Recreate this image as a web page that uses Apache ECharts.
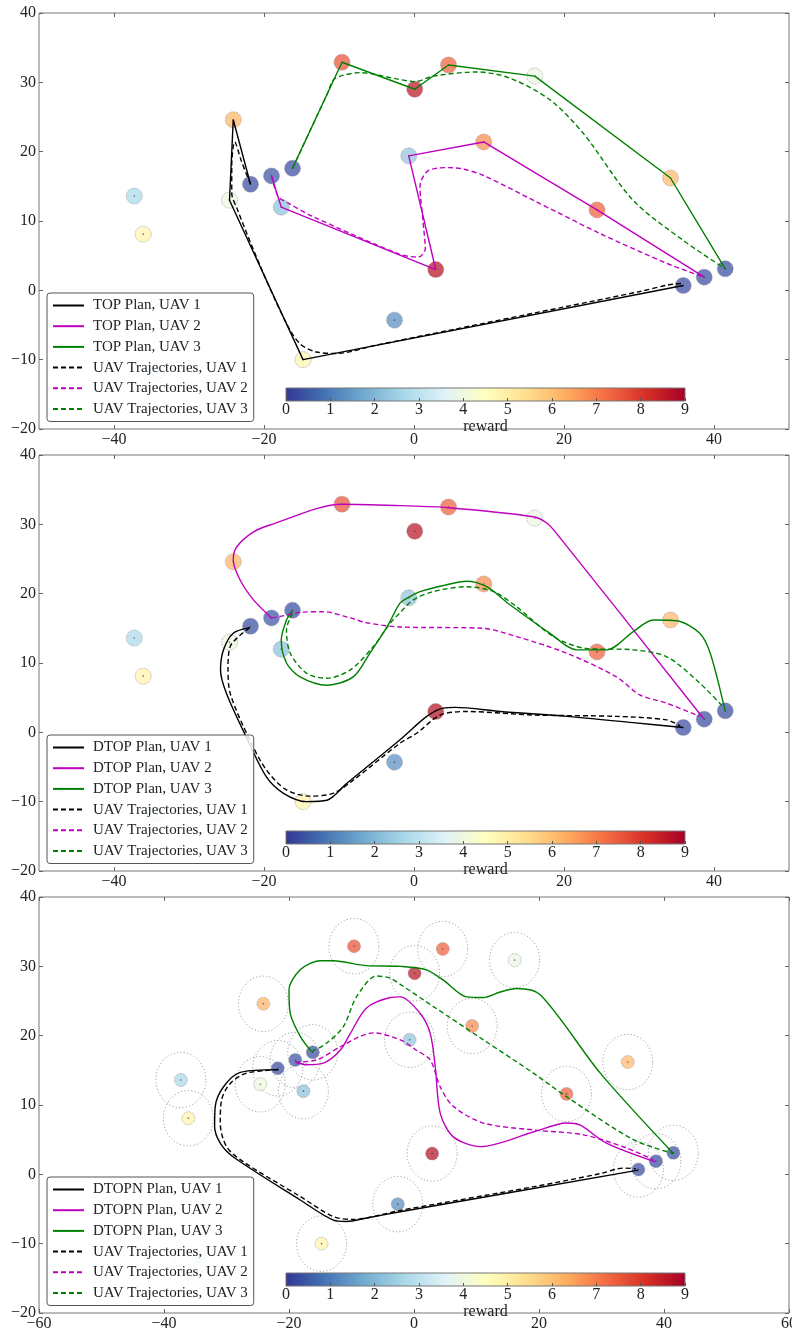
<!DOCTYPE html>
<html>
<head>
<meta charset="utf-8">
<script src="https://cdn.jsdelivr.net/npm/echarts@6/dist/echarts.min.js"></script>
<style>
  html, body { margin: 0; padding: 0; background: #fff; }
  #chart { width: 792px; height: 1330px; }
</style>
</head>
<body>
<div id="chart"></div>
<script>
// targets (same field in all three panels)
var targetX = [-24.1, -21.8, -19.0, -16.2, -17.7, -24.6, -37.3, -36.1, -14.8, -2.6, -9.6, 0.1, 4.6, 16.1, -0.7, 9.3, 2.9, 24.4, 34.2, 35.9, 38.7, 41.5, -34.3]
var targetY = [24.6, 15.3, 16.5, 17.6, 12.0, 13.0, 13.6, 8.1, -10.0, -4.3, 32.9, 29.0, 32.5, 30.9, 19.4, 21.4, 3.0, 11.6, 16.2, 0.7, 1.9, 3.1, -11.8]
var targetReward = [6.2, 0.3, 0.4, 0.3, 2.2, 4.0, 2.7, 4.8, 4.8, 1.3, 7.6, 8.6, 7.4, 3.9, 2.3, 6.8, 8.7, 7.4, 6.1, 0.3, 0.3, 0.3, 3.0]
var noiseRadius = 4

// TOP
var topPlan1 = [[-21.8,15.3],[-24.1,24.6],[-24.6,13.0],[-14.8,-10.0],[35.9,0.7]]
var topPlan2 = [[-19.0,16.5],[-17.7,12.0],[2.9,3.0],[-0.7,19.4],[9.3,21.4],[24.4,11.6],[38.7,1.9]]
var topPlan3 = [[-16.2,17.6],[-9.6,32.9],[0.1,29.0],[4.6,32.5],[16.1,30.9],[34.2,16.2],[41.5,3.1]]
var topTraj1 = [[-21.8,15.3],[-23.0,18.6],[-23.9,21.4],[-24.3,18.0],[-24.3,14.0],[-23.6,11.8],[-20.5,3.5],[-17.0,-4.8],[-15.2,-7.7],[-13.0,-8.9],[-10.3,-9.1],[-5.0,-7.9],[5.0,-5.7],[20.0,-2.4],[30.0,-0.2],[34.0,0.8],[35.9,1.0]]
var topTraj2 = [[-19.0,16.5],[-18.1,13.5],[-16.8,12.6],[-13.4,10.6],[-1.9,5.2],[0.6,4.8],[1.5,6.0],[1.2,10.0],[0.8,15.0],[1.7,17.1],[3.0,17.6],[4.6,17.7],[6.5,17.5],[9.2,16.6],[15.9,13.0],[24.8,8.2],[33.7,3.9],[38.4,2.0]]
var topTraj3 = [[-16.2,17.6],[-13.0,25.0],[-11.5,28.5],[-10.8,30.3],[-9.5,31.0],[-7.2,31.4],[-2.3,30.5],[0.1,30.1],[2.6,30.9],[8.4,31.5],[12.8,30.6],[18.1,27.5],[22.6,22.6],[29.2,13.0],[35.9,7.2],[41.5,3.1]]

// DTOP
var dtopPlan1 = [[-21.9,15.1],[-24.1,14.3],[-25.4,11.9],[-25.8,9.0],[-25.0,5.6],[-22.4,-0.6],[-19.7,-6.4],[-17.4,-8.8],[-14.3,-10.0],[-11.6,-9.8],[-9.0,-7.4],[-1.9,-1.1],[1.7,2.3],[3.9,3.5],[5.5,3.6],[11.5,3.0],[20.4,2.3],[29.2,1.4],[35.9,0.7]]
var dtopPlan2 = [[-19.0,16.5],[-21.4,19.1],[-23.2,22.0],[-24.1,24.9],[-23.6,26.8],[-21.4,28.9],[-19.2,29.9],[-9.6,32.9],[-1.9,32.7],[4.6,32.4],[15.9,31.1],[17.7,30.2],[19.0,28.7],[38.6,2.0]]
var dtopPlan3 = [[-16.2,17.6],[-17.0,16.2],[-17.7,13.3],[-17.0,10.0],[-15.2,8.0],[-11.6,6.8],[-8.1,8.0],[-5.9,11.4],[-3.6,15.2],[-1.9,18.6],[-1.0,19.3],[0.8,20.3],[4.0,21.2],[7.0,21.8],[9.7,21.0],[12.8,18.4],[18.1,14.3],[21.7,11.9],[25.7,11.9],[29.2,14.5],[31.9,16.2],[35.0,16.1],[38.1,14.3],[39.5,11.4],[41.5,3.0]]
var dtopTraj1 = [[-21.9,15.1],[-23.4,13.8],[-24.5,12.4],[-24.8,9.5],[-24.5,5.6],[-21.9,-1.1],[-19.7,-5.4],[-17.0,-8.3],[-13.9,-9.2],[-10.8,-8.8],[-8.1,-6.9],[-1.9,-1.6],[0.4,-0.1],[3.5,2.5],[7.0,3.0],[15.9,2.5],[27.0,2.3],[33.7,1.8],[35.5,0.9]]
var dtopTraj2 = [[-19.0,16.5],[-17.9,16.7],[-15.2,17.3],[-12.1,17.4],[-8.5,16.5],[-6.3,15.8],[-1.9,15.2],[9.2,15.0],[13.7,13.8],[20.4,11.4],[27.0,8.0],[30.1,5.4],[33.7,4.2],[38.1,2.3]]
var dtopTraj3 = [[-16.2,17.2],[-17.0,14.8],[-16.5,11.4],[-14.3,8.5],[-11.6,7.8],[-8.5,9.0],[-5.4,12.4],[-3.2,15.7],[-1.9,17.2],[-0.1,19.1],[2.6,20.3],[7.0,21.0],[10.6,20.3],[13.7,18.1],[18.6,13.8],[23.0,12.1],[29.2,11.9],[33.7,10.9],[38.1,7.1],[41.2,3.7]]

// DTOPN
var dtopnPlan1 = [[-21.7,15.1],[-27.8,14.7],[-30.5,12.6],[-31.8,9.8],[-31.9,6.9],[-31.0,4.5],[-28.9,2.5],[-18.2,-3.7],[-12.9,-6.6],[-10.8,-6.8],[-7.6,-6.3],[-2.2,-5.4],[35.9,0.6]]
var dtopnPlan2 = [[-19.0,16.2],[-17.2,15.8],[-14.6,16.0],[-11.8,17.9],[-10.2,20.3],[-7.6,24.0],[-3.8,25.5],[-2.2,25.6],[1.0,23.2],[2.6,20.3],[3.4,15.5],[4.2,8.8],[6.3,5.4],[10.6,4.0],[19.1,6.1],[24.4,7.4],[26.6,7.1],[30.8,4.5],[38.6,1.8]]
var dtopnPlan3 = [[-16.4,17.7],[-18.2,19.9],[-19.8,23.2],[-20.0,26.6],[-18.2,29.5],[-15.0,30.8],[-12.9,30.8],[-7.6,30.1],[-2.2,30.0],[2.0,29.5],[4.7,28.0],[8.4,25.6],[11.1,25.5],[13.8,26.3],[16.4,26.8],[20.2,25.9],[29.8,14.6],[41.5,3.0]]
var dtopnTraj1 = [[-21.7,15.1],[-26.8,14.6],[-29.4,13.1],[-30.8,10.7],[-31.0,7.4],[-30.0,4.0],[-27.3,1.8],[-18.2,-3.2],[-12.9,-6.1],[-9.7,-6.5],[-2.2,-5.2],[19.1,-1.8],[29.8,0.1],[33.5,0.9],[35.5,0.8]]
var dtopnTraj2 = [[-19.0,16.2],[-15.6,16.5],[-11.8,18.4],[-8.6,19.9],[-6.5,20.4],[-2.2,19.4],[0.4,17.9],[2.6,16.5],[4.2,12.6],[6.3,9.8],[11.1,7.4],[19.1,6.4],[27.1,5.7],[34.0,3.8],[38.3,2.1]]
var dtopnTraj3 = [[-16.4,17.7],[-14.0,18.9],[-11.3,21.3],[-9.2,25.6],[-6.0,28.6],[-3.8,28.3],[-2.2,27.4],[3.1,24.2],[11.1,19.4],[19.1,14.6],[24.4,11.2],[35.1,5.0],[41.5,3.0]]

var planNames = ['TOP', 'DTOP', 'DTOPN']
var xTicks12 = [-40, -20, 0, 20, 40]
var xTicks3 = [-60, -40, -20, 0, 20, 40, 60]
var rewardTicks = [0, 1, 2, 3, 4, 5, 6, 7, 8, 9]
var rdylbu = ['#313695','#4575b4','#74add1','#abd9e9','#e0f3f8','#ffffbf','#fee090','#fdae61','#f46d43','#d73027','#a50026']

var FONT = 'Liberation Serif'
var uavColors = ['#000000', '#bf00bf', '#008000']
var panelTop = [13, 455, 897]
var barTop = [388, 831, 1273]

function fmt(v) { return v < 0 ? '\u2212' + (-v) : String(v) }

var chart = echarts.init(document.getElementById('chart'))

var grids = [], xAxes = [], yAxes = [], series = [], legends = [], visualMaps = []
var targets = targetX.map(function (x, i) { return [x, targetY[i], targetReward[i]] })

var plans = [[topPlan1, topPlan2, topPlan3], [dtopPlan1, dtopPlan2, dtopPlan3], [dtopnPlan1, dtopnPlan2, dtopnPlan3]]
var trajs = [[topTraj1, topTraj2, topTraj3], [dtopTraj1, dtopTraj2, dtopTraj3], [dtopnTraj1, dtopnTraj2, dtopnTraj3]]

function xAxis(i, pos, min, max, ticks) {
  return {
    type: 'value', gridIndex: i, position: pos, min: min, max: max,
    axisLine: { show: false, onZero: false }, splitLine: { show: false },
    axisTick: { inside: true, length: 4, customValues: ticks, lineStyle: { color: '#666' } },
    axisLabel: { show: pos === 'bottom', customValues: ticks, formatter: fmt, fontFamily: FONT, fontSize: 16, color: '#222', margin: 3 }
  }
}
function yAxis(i, pos) {
  return {
    type: 'value', gridIndex: i, position: pos, min: -20, max: 40, interval: 10,
    axisLine: { show: false, onZero: false }, splitLine: { show: false },
    axisTick: { inside: true, length: 4, lineStyle: { color: '#666' } },
    axisLabel: { show: pos === 'left', formatter: fmt, fontFamily: FONT, fontSize: 16, color: '#222', margin: 3 }
  }
}

for (var p = 0; p < 3; p++) {
  grids.push({ left: 39, top: panelTop[p], width: 750, height: 416, show: true, borderColor: '#777', borderWidth: 1,
    backgroundColor: '#fff', outerBoundsMode: 'none', containLabel: false })
}
for (var p = 0; p < 3; p++) {
  var lim = p < 2 ? 50 : 60
  xAxes[p] = xAxis(p, 'bottom', -lim, lim, p < 2 ? xTicks12 : xTicks3)
  xAxes[p + 3] = xAxis(p, 'top', -lim, lim, p < 2 ? xTicks12 : xTicks3)
  yAxes[p] = yAxis(p, 'left')
  yAxes[p + 3] = yAxis(p, 'right')
}
// colorbars
var gradStops = rdylbu.map(function (c, i) { return { offset: i / (rdylbu.length - 1), color: c } })
for (var p = 0; p < 3; p++) {
  grids.push({ left: 286, top: barTop[p], width: 399, height: 13, show: true, borderColor: '#777', borderWidth: 1,
    backgroundColor: { type: 'linear', x: 0, y: 0, x2: 1, y2: 0, colorStops: gradStops }, z: 5, outerBoundsMode: 'none' })
  xAxes[p + 6] = {
    type: 'value', gridIndex: p + 3, min: 0, max: 9, interval: 1, z: 5,
    name: 'reward', nameLocation: 'middle', nameGap: 15,
    nameTextStyle: { fontFamily: FONT, fontSize: 16, color: '#222' },
    axisLine: { show: false, onZero: false }, splitLine: { show: false },
    axisTick: { inside: true, length: 3, lineStyle: { color: '#555' } },
    axisLabel: { fontFamily: FONT, fontSize: 16, color: '#222', margin: 1, customValues: rewardTicks }
  }
  yAxes[p + 6] = { type: 'value', gridIndex: p + 3, min: 0, max: 1, show: false }
}

for (var p = 0; p < 3; p++) {
  var names = []
  if (p === 2) {
    series.push({
      type: 'custom', xAxisIndex: p, yAxisIndex: p, z: 1, silent: true,
      data: targets,
      renderItem: function (params, api) {
        var cx = api.value(0), cy = api.value(1), pts = []
        for (var k = 0; k <= 64; k++) {
          var t = k / 64 * Math.PI * 2
          pts.push(api.coord([cx + noiseRadius * Math.cos(t), cy + noiseRadius * Math.sin(t)]))
        }
        return { type: 'polyline', shape: { points: pts }, style: { fill: null, stroke: '#9a9a9a', lineWidth: 0.9, lineDash: [1.2, 2.2] } }
      }
    })
  }
  series.push({
    type: 'scatter', xAxisIndex: p, yAxisIndex: p, z: 2, data: targets,
    symbolSize: p === 2 ? 13 : 16,
    itemStyle: { opacity: 0.72, borderColor: '#777', borderWidth: 0.8, borderType: 'dotted' }
  })
  visualMaps.push({ type: 'continuous', show: false, min: 0, max: 9, dimension: 2, seriesIndex: series.length - 1, inRange: { color: rdylbu } })
  series.push({
    type: 'scatter', xAxisIndex: p, yAxisIndex: p, z: 2, data: targets, symbolSize: 1.6, silent: true,
    itemStyle: { color: '#333', opacity: 0.7 }
  })
  for (var u = 0; u < 3; u++) {
    var nm = planNames[p] + ' Plan, UAV ' + (u + 1)
    names.push(nm)
    series.push({
      name: nm, type: 'line', xAxisIndex: p, yAxisIndex: p, z: 3, data: plans[p][u],
      symbol: 'none', smooth: p === 0 ? false : 0.3,
      lineStyle: { color: uavColors[u], width: 1.4 }, itemStyle: { color: uavColors[u] }
    })
  }
  for (var u = 0; u < 3; u++) {
    var nm2 = 'UAV Trajectories, UAV ' + (u + 1)
    names.push(nm2)
    series.push({
      name: nm2, type: 'line', xAxisIndex: p, yAxisIndex: p, z: 3, data: trajs[p][u],
      symbol: 'none', smooth: 0.3,
      lineStyle: { color: uavColors[u], width: 1.4, type: [5, 3] }, itemStyle: { color: uavColors[u] }
    })
  }
  legends.push({
    data: names, orient: 'vertical', left: 47, top: panelTop[p] + 280, z: 6,
    itemWidth: 31, itemHeight: 14, itemGap: 5.7, padding: [5, 6, 5, 5],
    backgroundColor: 'rgba(255,255,255,0.85)', borderColor: '#555', borderWidth: 1, borderRadius: 3,
    selectedMode: false,
    itemStyle: { opacity: 0 },
    textStyle: { fontFamily: FONT, fontSize: 15, color: '#222', lineHeight: 14, padding: [0, 0, 0, 4] }
  })
}

chart.setOption({
  animation: false,
  backgroundColor: '#fff',
  grid: grids,
  xAxis: xAxes,
  yAxis: yAxes,
  legend: legends,
  visualMap: visualMaps,
  series: series
})
</script>
</body>
</html>
